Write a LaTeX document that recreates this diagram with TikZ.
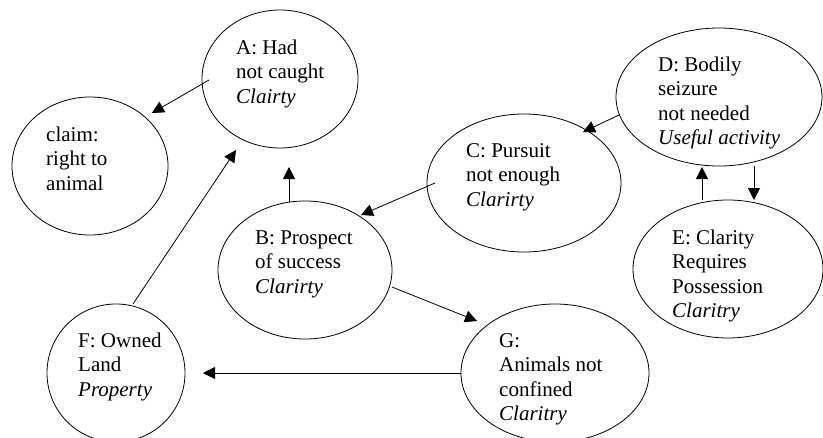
\documentclass[tikz,border=0pt]{standalone}
\usepackage{fontspec}
\setmainfont{Liberation Serif}
\usetikzlibrary{shapes.geometric,arrows.meta,calc}
\begin{document}
\begin{tikzpicture}[x=1pt,y=-1pt,
  oval/.style={draw,ellipse,line width=0.8pt,inner sep=0pt},
  txt/.style={anchor=base west,inner sep=0pt,font=\fontsize{21}{24.5}\selectfont},
  arr/.style={line width=0.8pt,-{Triangle[length=12pt,width=12pt]}}]
\fill[white] (0,0) rectangle (823,437);
\useasboundingbox (0,0) rectangle (823,437);
% ellipses
\node[oval,minimum width=156pt,minimum height=138pt] (A) at (280,79) {};
\node[oval,minimum width=156pt,minimum height=138pt] (claim) at (90,166) {};
\node[oval,minimum width=194pt,minimum height=138pt] (C) at (524,183) {};
\node[oval,minimum width=206pt,minimum height=138pt] (D) at (719,97) {};
\node[oval,minimum width=190pt,minimum height=138pt] (E) at (728,269) {};
\node[oval,minimum width=174pt,minimum height=138pt] (B) at (305,270) {};
\node[oval,minimum width=138pt,minimum height=138pt] (F) at (116,373) {};
\node[oval,minimum width=188pt,minimum height=138pt] (G) at (555,373) {};
% texts
\node[txt] (At) at (236,54) {\begin{tabular}[t]{@{}l@{}}A: Had\\not caught\\\textit{Clairty}\end{tabular}};
\node[txt] (claimt) at (46,141) {\begin{tabular}[t]{@{}l@{}}claim:\\right to\\animal\end{tabular}};
\node[txt] (Ct) at (466,157) {\begin{tabular}[t]{@{}l@{}}C: Pursuit\\not enough\\\textit{Clarirty}\end{tabular}};
\node[txt] (Dt) at (658,71) {\begin{tabular}[t]{@{}l@{}}D: Bodily\\seizure\\not needed\\\textit{Useful activity}\end{tabular}};
\node[txt] (Bt) at (255,244) {\begin{tabular}[t]{@{}l@{}}B: Prospect\\of success\\\textit{Clarirty}\end{tabular}};
\node[txt] (Et) at (672,244) {\begin{tabular}[t]{@{}l@{}}E: Clarity\\Requires\\Possession\\\textit{Claritry}\end{tabular}};
\node[txt] (Ft) at (78,347) {\begin{tabular}[t]{@{}l@{}}F: Owned\\Land\\\textit{Property}\end{tabular}};
\node[txt] (Gt) at (499,347) {\begin{tabular}[t]{@{}l@{}}G:\\Animals not\\confined\\\textit{Claritry}\end{tabular}};
% connectors
\draw[arr] ($(A.center)+(-71,1)$) -- ($(claim.center)+(62,-53)$);
\draw[arr] ($(F.center)+(17,-69)$) -- ($(A.center)+(-44,71)$);
\draw[arr] ($(B.center)+(-16,-68)$) -- ($(A.center)+(9,88)$);
\draw[arr] ($(C.center)+(-89,0)$) -- ($(B.center)+(56,-55)$);
\draw[arr] ($(D.center)+(-100,18)$) -- ($(C.center)+(59,-51)$);
\draw[arr] ($(E.center)+(-26,-69)$) -- ($(D.center)+(-17,70)$);
\draw[arr] ($(D.center)+(35,69)$) -- ($(E.center)+(26,-69)$);
\draw[arr] ($(B.center)+(87,17)$) -- ($(G.center)+(-78,-52)$);
\draw[arr] ($(G.center)+(-94,0)$) -- ($(F.center)+(87,0)$);
\end{tikzpicture}
\end{document}
